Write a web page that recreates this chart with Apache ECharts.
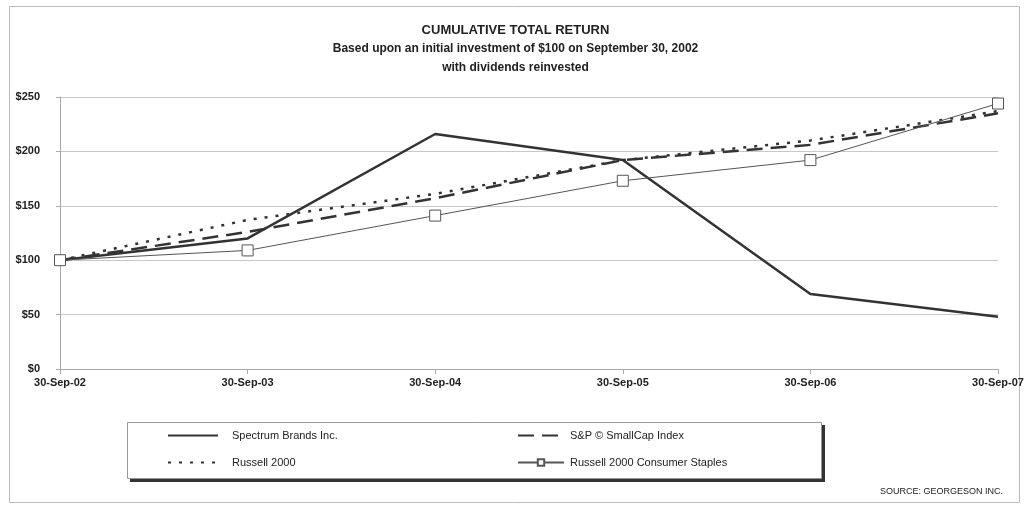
<!DOCTYPE html>
<html>
<head>
<meta charset="utf-8">
<script src="https://cdn.jsdelivr.net/npm/echarts@6/dist/echarts.min.js"></script>
<style>
  html, body { margin: 0; padding: 0; background: #fff; }
  #main { width: 1031px; height: 507px; }
</style>
</head>
<body>
<div id="main"></div>
<script>
// data
var dates = ['30-Sep-02', '30-Sep-03', '30-Sep-04', '30-Sep-05', '30-Sep-06', '30-Sep-07'];
var spectrum = [100, 120, 216, 192, 69, 48];
var smallCap = [100, 126, 157, 192, 206, 235];
var russell2000 = [100, 137, 161, 192, 210, 237];
var consumerStaples = [100, 109, 141, 173, 192, 244];

var myChart = echarts.init(document.getElementById('main'));
var font = 'Liberation Sans, Arial, sans-serif';
var noMark = { opacity: 0 }; // hide the legend symbol for plain lines

var option = {
    animation: false,
    backgroundColor: '#fff',
    textStyle: { fontFamily: font },
    title: {
        text: 'CUMULATIVE TOTAL RETURN',
        subtext: 'Based upon an initial investment of $100 on September 30, 2002\nwith dividends reinvested',
        left: 'center',
        top: 19,
        itemGap: 2,
        textStyle: { fontSize: 13, fontWeight: 'bold', color: '#222' },
        subtextStyle: { fontSize: 12, fontWeight: 'bold', color: '#222', lineHeight: 19 }
    },
    grid: { left: 60, right: 33, top: 97, bottom: 138 },
    xAxis: {
        type: 'category',
        data: dates,
        boundaryGap: false,
        axisLine: { lineStyle: { color: '#aaa' } },
        axisTick: { length: 5, lineStyle: { color: '#aaa' } },
        axisLabel: { color: '#222', fontWeight: 'bold', fontSize: 11, margin: 8 }
    },
    yAxis: {
        type: 'value',
        min: 0,
        max: 250,
        interval: 50,
        axisLine: { show: true, lineStyle: { color: '#aaa' } },
        axisTick: { show: true, length: 4, lineStyle: { color: '#aaa' } },
        splitLine: { lineStyle: { color: '#c8c8c8' } },
        axisLabel: { color: '#222', fontWeight: 'bold', fontSize: 11, margin: 20, formatter: '${value}' }
    },
    legend: [
        {
            left: 167, top: 430, padding: 0,
            orient: 'vertical',
            itemWidth: 50, itemHeight: 10, itemGap: 16,
            textStyle: { fontSize: 11, color: '#222', padding: [0, 0, 0, 9] },
            data: [
                { name: 'Spectrum Brands Inc.', itemStyle: noMark },
                { name: 'Russell 2000', itemStyle: noMark }
            ]
        },
        {
            left: 517, top: 430, padding: 0,
            orient: 'vertical',
            itemWidth: 46, itemHeight: 8, itemGap: 16,
            textStyle: { fontSize: 11, color: '#222', padding: [0, 0, 0, 1] },
            data: [
                { name: 'S&P \u00a9 SmallCap Index', itemStyle: noMark },
                'Russell 2000 Consumer Staples'
            ]
        }
    ],
    graphic: [
        {
            type: 'rect', z: -1,
            shape: { x: 9.5, y: 6.5, width: 1010, height: 496 },
            style: { fill: '#fff', stroke: '#bbb', lineWidth: 1 }
        },
        {
            type: 'rect', z: 0,
            shape: { x: 130, y: 425, width: 695, height: 57 },
            style: { fill: '#333' }
        },
        {
            type: 'rect', z: 1,
            shape: { x: 127.5, y: 422.5, width: 694, height: 56 },
            style: { fill: '#fff', stroke: '#999', lineWidth: 1 }
        },
        {
            type: 'text', z: 2,
            right: 28, top: 487,
            style: { text: 'SOURCE: GEORGESON INC.', fill: '#222', font: '9px ' + font }
        }
    ],
    series: [
        {
            name: 'Spectrum Brands Inc.',
            type: 'line',
            data: spectrum,
            showSymbol: false,
            z: 5,
            lineStyle: { color: '#333', width: 2.5 },
            itemStyle: { color: '#333' }
        },
        {
            name: 'S&P \u00a9 SmallCap Index',
            type: 'line',
            data: smallCap,
            showSymbol: false,
            z: 4,
            lineStyle: { color: '#333', width: 2.5, type: [16, 8] },
            itemStyle: { color: '#333' }
        },
        {
            name: 'Russell 2000',
            type: 'line',
            data: russell2000,
            showSymbol: false,
            z: 3,
            lineStyle: { color: '#333', width: 2.5, type: [3, 8] },
            itemStyle: { color: '#333' }
        },
        {
            name: 'Russell 2000 Consumer Staples',
            type: 'line',
            data: consumerStaples,
            symbol: 'rect',
            symbolSize: 11,
            z: 6,
            lineStyle: { color: '#555', width: 1 },
            itemStyle: { color: '#fff', borderColor: '#555', borderWidth: 1 }
        }
    ]
};

myChart.setOption(option);
window.addEventListener('resize', function () {
    myChart.resize();
});
</script>
</body>
</html>
